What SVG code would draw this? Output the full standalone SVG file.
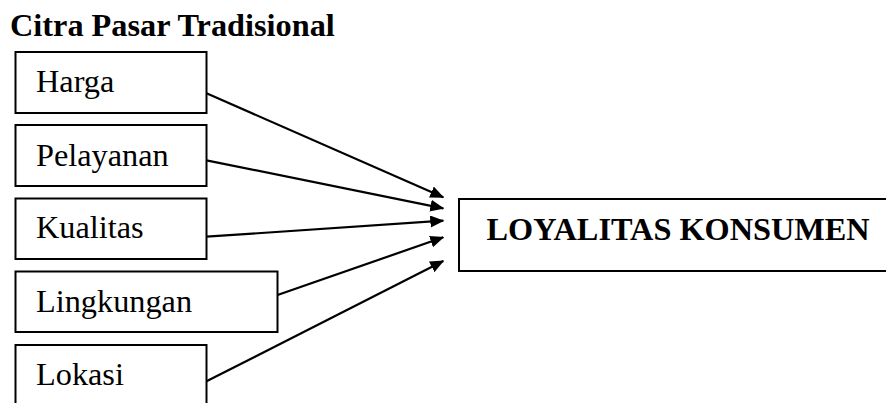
<svg xmlns="http://www.w3.org/2000/svg" width="886" height="403" viewBox="0 0 886 403">
<style>
.box{fill:#fff;stroke:#000;stroke-width:2}
.t{font-family:"Liberation Serif","Times New Roman",serif;font-size:32.3px;fill:#000}
.b{font-weight:bold}
.c{stroke:#000;stroke-width:2.2;fill:none}
</style>
<defs>
<marker id="ah" markerUnits="userSpaceOnUse" markerWidth="14" markerHeight="12" refX="13" refY="6" orient="auto" viewBox="0 0 14 12">
<path d="M0,0 L14,6 L0,12 Z" fill="#000"/>
</marker>
</defs>
<rect width="886" height="403" fill="#fff"/>
<text class="t b" x="10" y="35.5">Citra Pasar Tradisional</text>
<g id="harga"><rect class="box" x="15.5" y="52" width="191" height="61"/><text class="t" x="36" y="92">Harga</text></g>
<g id="pelayanan"><rect class="box" x="15.5" y="125" width="191" height="61"/><text class="t" x="36" y="165.5">Pelayanan</text></g>
<g id="kualitas"><rect class="box" x="15.5" y="198.5" width="191" height="60.5"/><text class="t" x="36" y="237.5">Kualitas</text></g>
<g id="lingkungan"><rect class="box" x="15.5" y="271.5" width="262" height="60.5"/><text class="t" x="36" y="311.5">Lingkungan</text></g>
<g id="lokasi"><rect class="box" x="15.5" y="345" width="191" height="70"/><text class="t" x="36" y="384.5">Lokasi</text></g>
<g id="loyalitas"><rect class="box" x="459" y="199" width="440" height="72"/><text class="t b" x="486.5" y="240">LOYALITAS KONSUMEN</text></g>
<g id="connectors">
<line class="c" x1="206.5" y1="93.3" x2="443.3" y2="197.3" marker-end="url(#ah)"/>
<line class="c" x1="206.5" y1="160.3" x2="443.3" y2="208.3" marker-end="url(#ah)"/>
<line class="c" x1="206.5" y1="236.7" x2="443.3" y2="220.7" marker-end="url(#ah)"/>
<line class="c" x1="277.5" y1="295" x2="443.3" y2="237.3" marker-end="url(#ah)"/>
<line class="c" x1="206.5" y1="381.3" x2="443.3" y2="261" marker-end="url(#ah)"/>
</g>
</svg>
